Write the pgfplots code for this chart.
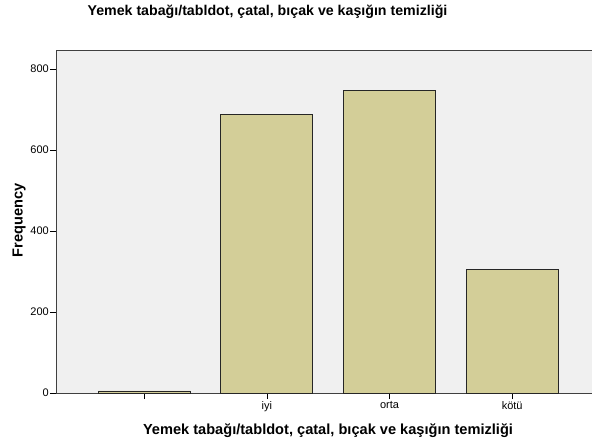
\documentclass[border=0pt]{standalone}
\usepackage{fontspec}
\setmainfont{Liberation Sans}
\usepackage{pgfplots}
\pgfplotsset{compat=1.18}
\definecolor{bg}{RGB}{240,240,240}
\definecolor{barc}{RGB}{211,206,152}
\begin{document}
\begin{tikzpicture}
\useasboundingbox (-56pt,-52pt) rectangle (536pt,393pt);
\begin{axis}[
 at={(0pt,0pt)}, anchor=south west,
 scale only axis, width=544.5pt, height=343pt,
 xmin=-0.72, xmax=3.72, ymin=0, ymax=847,
 axis background/.style={fill=bg},
 axis line style={draw=black!75, line width=1pt},
 xtick={0,1,2,3}, xticklabels={{},iyi,orta,kötü},
 ytick={0,200,400,600,800},
 tick pos=left, tick align=outside, major tick length=6pt,
 tick style={black, line width=0.8pt},
 ticklabel style={font=\fontsize{11}{13}\selectfont},
 yticklabel style={inner sep=1pt},
 xticklabel style={inner sep=2pt},
 /pgf/number format/assume math mode=true,
 ybar, bar width=92pt, bar shift=0pt,
]
\addplot[fill=barc, draw=black!85, line width=0.9pt] coordinates {(0,5) (1,688) (2,747) (3,305)};
\end{axis}
\node[font=\bfseries\fontsize{14.2}{16}\selectfont] at (211.5pt,381pt) {Yemek tabağı/tabldot, çatal, bıçak ve kaşığın temizliği};
\node[font=\bfseries\fontsize{14.6}{16}\selectfont] at (272pt,-38pt) {Yemek tabağı/tabldot, çatal, bıçak ve kaşığın temizliği};
\node[font=\bfseries\fontsize{14.6}{16}\selectfont, rotate=90] at (-37pt,172.5pt) {Frequency};
\end{tikzpicture}
\end{document}
